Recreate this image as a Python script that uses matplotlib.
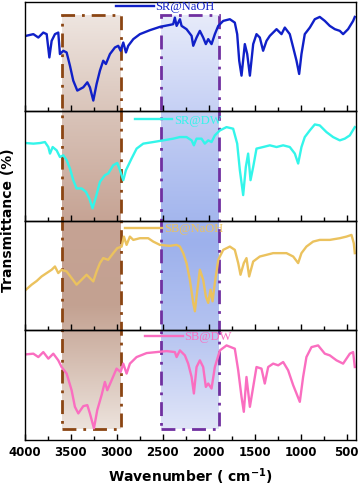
import numpy as np
import matplotlib
matplotlib.use('Agg')
import matplotlib.pyplot as plt
from matplotlib.colors import LinearSegmentedColormap
from matplotlib.patches import Rectangle

# spectra (wavenumber cm-1, relative transmittance)
wn_sr_naoh = [3989, 3909, 3855, 3801, 3764, 3735, 3710, 3674, 3638, 3620, 3583, 3547, 3511, 3475, 3431,
              3366, 3322, 3294, 3257, 3221, 3185, 3149, 3120, 3076, 3022, 2986, 2960, 2931, 2902, 2877,
              2822, 2750, 2641, 2533, 2424, 2388, 2370, 2351, 2315, 2297, 2243, 2188, 2170, 2134, 2098,
              2062, 2033, 2007, 1971, 1935, 1898, 1844, 1772, 1718, 1692, 1670, 1645, 1609, 1583, 1554,
              1518, 1482, 1446, 1410, 1373, 1337, 1264, 1210, 1174, 1120, 1083, 1047, 1018, 993, 957,
              902, 848, 794, 739, 685, 630, 576, 540, 486, 431, 413]
t_sr_naoh = [76, 77.7, 74.3, 79.3, 77.7, 54.3, 71, 77.7, 79.3, 57.7, 61, 59.3, 46, 31, 21,
             24.3, 29.3, 24.3, 11, 27.7, 41, 51, 47.7, 57.7, 64.3, 66, 61, 69.3, 59.3, 66,
             72.7, 77.7, 81.7, 85, 87, 87.7, 94.3, 86, 92.7, 86, 82.7, 76, 66, 74.3, 81,
             74.3, 67.7, 72.7, 67.7, 77.7, 86, 91, 92.7, 89.3, 77.7, 51, 36, 67.7, 57.7, 36,
             67.7, 77.7, 74.3, 61, 71, 76, 82.7, 77.7, 84.3, 77.7, 64.3, 51, 37.7, 57.7, 77.7,
             84.3, 92.7, 95, 91, 86, 82.7, 81, 77.7, 82.7, 91, 95]

wn_sr_dw = [3989, 3909, 3837, 3783, 3746, 3728, 3699, 3656, 3620, 3583, 3547, 3511, 3475, 3439, 3384,
            3337, 3301, 3265, 3228, 3185, 3131, 3095, 3040, 2996, 2967, 2931, 2902, 2841, 2786, 2714,
            2605, 2496, 2388, 2315, 2243, 2188, 2163, 2134, 2080, 2044, 2007, 1971, 1935, 1880, 1808,
            1736, 1692, 1663, 1627, 1598, 1573, 1547, 1518, 1482, 1410, 1337, 1264, 1192, 1120, 1065,
            1029, 993, 957, 902, 848, 794, 721, 649, 576, 522, 467, 413]
t_sr_dw = [78.3, 77.7, 78.3, 79.3, 74.3, 67.7, 74.3, 71, 64.3, 66, 61, 52.7, 41, 32.7, 32.7,
           29.3, 22.7, 12.7, 24.3, 39.3, 46, 47.7, 56, 58.3, 51, 41, 51, 62.7, 72.7, 77.7,
           79.3, 81, 82.7, 84.3, 84.3, 81, 76, 82.7, 82.7, 77.7, 81, 79.3, 86, 91, 94.3,
           92.7, 77.7, 51, 26, 54.3, 67.7, 41, 54.3, 72.7, 74.3, 76, 74.3, 76, 74.3, 67.7,
           57.7, 74.3, 84.3, 91, 97, 96, 89.3, 84.3, 81, 82.7, 86, 94.3]

wn_sb_naoh = [3989, 3928, 3873, 3819, 3764, 3710, 3674, 3638, 3602, 3547, 3493, 3439, 3384, 3330, 3294,
              3257, 3221, 3185, 3149, 3095, 3040, 2996, 2949, 2924, 2895, 2859, 2822, 2750, 2660, 2605,
              2533, 2424, 2351, 2315, 2279, 2243, 2207, 2170, 2152, 2134, 2098, 2062, 2033, 2007, 1982,
              1960, 1935, 1898, 1844, 1772, 1718, 1681, 1656, 1620, 1591, 1562, 1518, 1446, 1373, 1301,
              1228, 1156, 1083, 1029, 993, 939, 866, 794, 685, 576, 504, 449, 424, 413]
t_sb_naoh = [41, 46, 49.7, 54.3, 57.7, 61, 64.3, 57.7, 61, 59.3, 52.7, 46, 51, 56, 52.7,
             49.3, 59.3, 67.7, 72.7, 71, 77.7, 82.7, 84.3, 94.3, 86, 94.3, 91, 92.7, 92.7, 89.3,
             86, 85, 86, 84.3, 77.7, 67.7, 51, 27.7, 19.3, 34.3, 61, 51, 34.3, 27.7, 41,
             29.3, 47.7, 71, 81, 84.3, 81, 67.7, 56, 67.7, 72.7, 54.3, 69.3, 74.3, 76, 77.7,
             77.7, 77.7, 74.3, 67.7, 77.7, 84.3, 89.3, 91, 91, 92.7, 94.3, 96, 87.7, 77.7]

wn_sb_dw = [3989, 3909, 3855, 3801, 3746, 3692, 3638, 3602, 3547, 3493, 3457, 3420, 3366, 3322, 3294,
            3250, 3214, 3167, 3131, 3105, 3058, 3004, 2960, 2931, 2895, 2859, 2786, 2677, 2569, 2460,
            2370, 2351, 2315, 2261, 2225, 2188, 2163, 2134, 2098, 2062, 2033, 2007, 1971, 1935, 1880,
            1808, 1718, 1681, 1645, 1620, 1591, 1554, 1518, 1482, 1428, 1392, 1355, 1301, 1246, 1192,
            1138, 1083, 1047, 1011, 975, 939, 884, 812, 739, 685, 612, 540, 467, 431, 413]
t_sb_dw = [86, 86.7, 83.3, 88.3, 81.7, 86.7, 80, 73.3, 66.7, 50, 33.3, 26.7, 34, 35, 26.7,
           11.7, 30, 45, 58.3, 50, 60, 71.7, 68.3, 76.7, 66.7, 76.7, 83.3, 87.3, 88.3, 89.3,
           88.3, 83.3, 90, 85, 76.7, 63.3, 46.7, 73.3, 80, 73.3, 53.3, 56.7, 51.7, 73.3, 90,
           95, 91.7, 70, 43.3, 28.3, 63.3, 33.3, 53.3, 73.3, 71.7, 56.7, 73.3, 76.7, 75, 78.3,
           70, 55, 46.7, 38.3, 63.3, 83.3, 93.3, 95, 86.7, 85, 80, 76.7, 86.7, 88.3, 73.3]

labels = ['SR@NaOH', 'SR@DW', 'SB@NaOH', 'SB@DW']
colors = ['#1020c8', '#33f5ea', '#ebc25e', '#fa6ec0']
legend_x = [0.275, 0.332, 0.302, 0.363]
legend_y = [1.01, 0.97, 0.98, 0.995]

# highlighted regions (cm-1)
box1 = (3600, 2960)
box2 = (2520, 1890)

series = [(wn_sr_naoh, t_sr_naoh), (wn_sr_dw, t_sr_dw), (wn_sb_naoh, t_sb_naoh), (wn_sb_dw, t_sb_dw)]

fig, axs = plt.subplots(4, 1, figsize=(3.59, 4.86), dpi=100, sharex=True)
plt.subplots_adjust(left=0.0696, right=0.9916, bottom=0.0947, top=0.9959, hspace=0)

for i, ax in enumerate(axs):
    ax.set_zorder(2)
    ax.patch.set_facecolor('none')
    ax.plot(series[i][0], series[i][1], color=colors[i], lw=1.7, label=labels[i])
    ax.set_xlim(4000, 400)
    ax.set_ylim(0, 110)
    ax.set_yticks([])
    ax.set_xticks(np.arange(4000, 499, -500))
    ax.set_xticks(np.arange(3750, 399, -250), minor=True)
    ax.tick_params(axis='x', which='both', direction='in', top=False, width=1)
    ax.tick_params(axis='x', which='major', length=4)
    ax.tick_params(axis='x', which='minor', length=3)
    for s in ax.spines.values():
        s.set_linewidth(1)
    leg = ax.legend(loc='upper left', bbox_to_anchor=(legend_x[i], legend_y[i]), frameon=False,
                    borderpad=0, borderaxespad=0, handlelength=3.0, handletextpad=0.15,
                    prop={'family': 'Liberation Serif', 'size': 9}, labelcolor='linecolor')

for lab in axs[-1].get_xticklabels():
    lab.set_fontweight('bold')
axs[-1].tick_params(axis='x', labelsize=8.5, pad=4)
axs[-1].set_xlabel('Wavenumber ( cm$^{\\mathbf{-1}}$)', fontsize=10, fontweight='bold', labelpad=6)
fig.text(0.022, 0.547, 'Transmittance (%)', rotation=90, fontsize=10, fontweight='bold',
         ha='center', va='center')

# shaded boxes behind all four panels
bg = fig.add_axes([0.0696, 0.0947, 0.922, 0.9012])
bg.set_zorder(1)
bg.set_xlim(4000, 400)
bg.set_ylim(0, 1)
bg.axis('off')
grad = np.linspace(0, 1, 256).reshape(-1, 1)
brown = LinearSegmentedColormap.from_list('b', [(0, '#eee5e0'), (0.25, '#d8c2b7'), (0.5, '#c6a394'),
                                                 (0.7, '#c3a191'), (0.85, '#d7c1b5'), (1, '#ece2dc')])
blue = LinearSegmentedColormap.from_list('u', [(0, '#e7ebfa'), (0.25, '#c3cef4'), (0.55, '#9db1ec'),
                                                (0.75, '#b3c2f0'), (1, '#e0e5f8')])
y0, y1 = 0.025, 0.970
bg.imshow(grad, cmap=brown, extent=(box1[0], box1[1], y0, y1), aspect='auto', origin='upper')
bg.imshow(grad, cmap=blue, extent=(box2[0], box2[1], y0, y1), aspect='auto', origin='upper')
bg.set_xlim(4000, 400)
bg.set_ylim(0, 1)
for (xa, xb), ec in [(box1, '#8b4513'), (box2, '#7030a0')]:
    bg.add_patch(Rectangle((xa, y0), xb - xa, y1 - y0, fill=False, ec=ec, lw=2,
                           linestyle=(0, (5, 2.5, 1, 2.5))))

plt.savefig('out.png', dpi=100)
